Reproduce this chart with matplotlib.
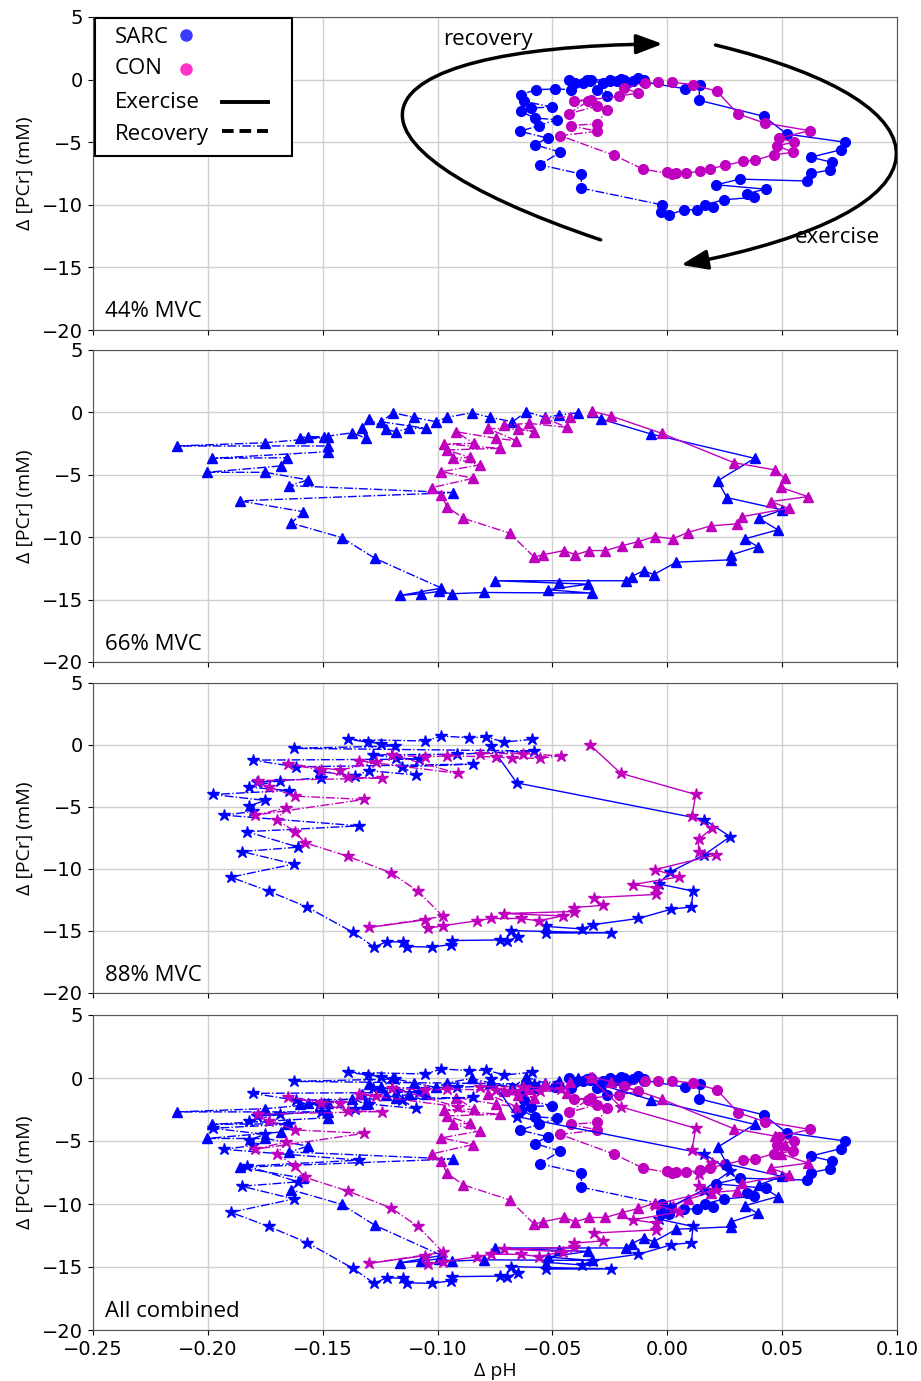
import numpy as np
import matplotlib
matplotlib.use('Agg')
import matplotlib.pyplot as plt
from matplotlib.lines import Line2D
from matplotlib.patches import FancyArrowPatch, Rectangle
from matplotlib.path import Path

# ---- 44% MVC (circles) ----
sarc44_ex_x = [-0.033, -0.02, -0.01, 0.0075, 0.0141, 0.0138, 0.042, 0.052, 0.0774, 0.0757, 0.0624, 0.0717, 0.071, 0.0627,
               0.061, 0.0316, 0.0213, 0.0428, 0.0347, 0.0377, 0.0246, 0.0163, 0.0201, 0.0129, 0.0072, 0.0006, -0.0027, -0.0024]
sarc44_ex_y = [0.0, -0.1, -0.2, -0.72, -0.45, -1.65, -2.93, -4.35, -5.0, -5.6, -6.2, -6.6, -7.2, -7.5,
               -8.1, -7.95, -8.4, -8.75, -9.1, -9.4, -9.6, -10.0, -10.2, -10.4, -10.4, -10.8, -10.6, -10.0]
sarc44_rec_x = [-0.0374, -0.0374, -0.0555, -0.0466, -0.0578, -0.0521, -0.0641, -0.056, -0.0481, -0.0578, -0.0638,
                -0.0593, -0.0503, -0.0623, -0.0638, -0.057, -0.0488, -0.042, -0.0428, -0.0368, -0.04, -0.0338, -0.035,
                -0.0278, -0.0263, -0.0308, -0.025, -0.0219, -0.02, -0.0174, -0.015, -0.0129, -0.0189, -0.0249, -0.01]
sarc44_rec_y = [-8.67, -7.55, -6.8, -5.8, -5.2, -4.67, -4.13, -3.68, -3.2, -3.07, -2.53,
                -2.27, -2.19, -1.73, -1.2, -0.8, -0.75, -0.8, 0.0, -0.27, -0.3, -0.13, -0.05,
                -0.27, -1.33, -0.8, -0.15, -0.13, 0.05, -0.27, -0.1, 0.13, 0.0, 0.0, -0.05]
con44_ex_x = [0.0021, 0.011, 0.0216, 0.0308, 0.0425, 0.062, 0.0485, 0.0552, 0.0478, 0.0548, 0.0463, 0.038, 0.0328,
              0.0253, 0.0186, 0.0141, 0.0081, 0.0036, 0.0, 0.002]
con44_ex_y = [-0.21, -0.4, -0.93, -2.75, -3.47, -4.08, -4.67, -5.0, -5.28, -5.81, -6.0, -6.45, -6.53,
              -6.85, -7.12, -7.33, -7.47, -7.47, -7.4, -7.55]
con44_rec_x = [-0.0106, -0.0231, -0.0466, -0.0305, -0.0421, -0.0305, -0.0263, -0.0308, -0.0428, -0.0346, -0.0406,
               -0.0331, -0.0211, -0.0129, -0.0189, -0.0099, -0.0039]
con44_rec_y = [-7.15, -6.05, -4.48, -4.13, -3.68, -3.52, -2.4, -2.13, -2.72, -1.73, -1.68,
               -1.6, -1.33, -1.07, -0.67, -0.27, -0.21]

# ---- 66% MVC (triangles) ----
sarc66_ex_x = [-0.0329, -0.029, -0.0071, 0.038, 0.0219, 0.026, 0.05, 0.0398, 0.0481, 0.0338, 0.0393, 0.0279, 0.0279,
               0.004, -0.006, -0.0102, -0.0155, -0.0181, -0.075, -0.0471, -0.0345, -0.0519, -0.0329, -0.08, -0.0936,
               -0.0995, -0.1071, -0.1164, -0.0983]
sarc66_ex_y = [0.0, -0.53, -1.73, -3.68, -5.49, -6.83, -7.81, -8.48, -9.41, -10.13, -10.75, -11.41, -11.81,
               -12.0, -13.0, -12.67, -13.15, -13.49, -13.49, -13.68, -13.76, -14.21, -14.48, -14.43, -14.53,
               -14.35, -14.53, -14.67, -14.08]
sarc66_rec_x = [-0.1274, -0.1417, -0.1636, -0.1586, -0.1862, -0.0931, -0.1645, -0.1564, -0.175, -0.2005, -0.1683,
                -0.1655, -0.1983, -0.1476, -0.1476, -0.2136, -0.175, -0.1476, -0.1598, -0.1564, -0.1495, -0.1371,
                -0.1312, -0.1329, -0.1298, -0.1226, -0.1181, -0.1126, -0.105, -0.1245, -0.1193, -0.1102, -0.1007,
                -0.096, -0.0852, -0.077, -0.0674, -0.0614, -0.0531, -0.0471, -0.0388]
sarc66_rec_y = [-11.68, -10.03, -8.88, -7.95, -7.09, -6.43, -5.87, -5.41, -4.8, -4.8, -4.29,
                -3.63, -3.68, -3.15, -2.69, -2.69, -2.43, -2.0, -2.03, -1.95, -1.95, -1.63,
                -2.08, -1.28, -0.51, -1.36, -1.55, -1.28, -1.28, -0.75, -0.03, -0.4, -0.75,
                -0.4, -0.03, -0.4, -0.75, 0.05, -0.4, -0.21, -0.03]
con66_ex_x = [-0.0329, -0.0245, -0.0024, 0.029, 0.0469, 0.0512, 0.0493, 0.0612, 0.045, 0.0529, 0.0326, 0.0302,
              0.019, 0.0088, 0.0024, -0.0055, -0.0126, -0.0198, -0.0269, -0.034, -0.04, -0.0448, -0.0543, -0.0579]
con66_ex_y = [0.1, -0.29, -1.68, -4.03, -4.61, -5.28, -6.0, -6.75, -7.15, -7.68, -8.35, -8.93,
              -9.09, -9.63, -10.13, -9.95, -10.35, -10.69, -11.07, -11.07, -11.41, -11.07, -11.41, -11.6]
con66_rec_x = [-0.0686, -0.0888, -0.096, -0.0983, -0.1026, -0.0845, -0.0983, -0.0817, -0.0931, -0.086, -0.096,
               -0.0729, -0.0971, -0.0843, -0.0919, -0.0745, -0.0657, -0.0781, -0.065, -0.0579, -0.071, -0.0602,
               -0.0436, -0.0531, -0.0424]
con66_rec_y = [-9.68, -8.48, -7.55, -6.61, -6.03, -5.28, -4.75, -4.21, -3.68, -3.6, -3.01,
               -2.88, -2.53, -2.48, -1.55, -2.08, -2.27, -1.28, -1.36, -1.55, -1.01, -0.88,
               -1.2, -0.48, -0.35]

# ---- 88% MVC (stars) ----
sarc88_ex_x = [-0.0769, -0.0655, 0.016, 0.0274, 0.016, 0.0012, -0.0038, 0.0112, 0.0105, 0.0017, -0.0126, -0.0324,
               -0.0371, -0.0526, -0.0526, -0.0245, -0.0679, -0.065, -0.0698, -0.0729, -0.0936, -0.094, -0.1026,
               -0.1131, -0.115, -0.1221, -0.1276]
sarc88_ex_y = [-0.08, -3.06, -6.01, -7.39, -8.86, -10.24, -11.2, -11.78, -13.06, -13.24, -13.99, -14.49,
               -14.84, -14.63, -15.16, -15.16, -14.97, -15.45, -15.82, -15.72, -15.77, -16.09, -16.3,
               -16.25, -15.9, -15.85, -16.3]
sarc88_rec_x = [-0.1369, -0.1569, -0.1736, -0.19, -0.1626, -0.1852, -0.1607, -0.1829, -0.134, -0.1929, -0.1802,
                -0.1821, -0.175, -0.1979, -0.1648, -0.1821, -0.1688, -0.1788, -0.1509, -0.1514, -0.1359, -0.1298,
                -0.1095, -0.1155, -0.0845, -0.1617, -0.1805, -0.1083, -0.1179, -0.1279, -0.0917, -0.0579, -0.1626,
                -0.1186, -0.1245, -0.1305, -0.1388, -0.1055, -0.0983, -0.0864, -0.079, -0.071, -0.059]
sarc88_rec_y = [-15.1, -13.06, -11.78, -10.66, -9.6, -8.59, -8.24, -6.99, -6.52, -5.66, -5.35,
                -4.92, -4.47, -3.99, -3.67, -3.4, -2.87, -3.0, -2.66, -2.15, -2.47, -2.07,
                -2.42, -1.76, -1.54, -1.76, -1.22, -1.14, -1.06, -0.8, -0.74, -0.48, -0.27,
                -0.08, 0.11, 0.24, 0.45, 0.32, 0.72, 0.59, 0.64, 0.24, 0.45]
con88_ex_x = [-0.0336, -0.0202, 0.0124, 0.0107, 0.0195, 0.0136, 0.0136, 0.0212, -0.0055, 0.0052, -0.015, -0.0048,
              -0.0048, -0.0321, -0.0281, -0.0407, -0.0407, -0.071, -0.0455, -0.056, -0.0638, -0.0769, -0.0829,
              -0.0976, -0.1043, -0.1055, -0.1298]
con88_ex_y = [0.0, -2.29, -3.99, -5.74, -6.73, -7.61, -8.59, -8.86, -10.05, -10.64, -11.25, -11.52,
              -12.05, -12.31, -12.93, -13.11, -13.43, -13.59, -13.78, -14.18, -13.99, -13.99, -14.18,
              -14.57, -14.79, -14.1, -14.71]
con88_rec_x = [-0.0976, -0.1086, -0.1202, -0.1388, -0.1579, -0.1619, -0.1698, -0.1662, -0.1795, -0.1319, -0.1622,
               -0.1733, -0.1781, -0.124, -0.1388, -0.1507, -0.165, -0.1424, -0.1267, -0.134, -0.0912, -0.1198,
               -0.1055, -0.096, -0.0745, -0.0674, -0.0555, -0.0464, -0.0626, -0.0817]
con88_rec_y = [-13.83, -11.78, -10.32, -8.99, -7.87, -6.99, -6.06, -5.08, -5.66, -4.39, -4.12,
               -3.4, -2.87, -2.66, -2.61, -2.02, -1.54, -2.02, -1.41, -1.28, -2.29, -0.8,
               -0.96, -0.88, -0.96, -1.06, -1.06, -0.88, -0.69, -0.69]

panel_labels = ['44% MVC', '66% MVC', '88% MVC', 'All combined']
legend_labels = ['SARC', 'CON', 'Exercise', 'Recovery']
x_ticks = [-0.25, -0.20, -0.15, -0.10, -0.05, 0.00, 0.05, 0.10]
y_ticks = [5, 0, -5, -10, -15, -20]

BLUE = '#0000ff'
MAG = '#bf00bf'
TXT = ['Open Sans', 'DejaVu Sans']

sets = {
    '44': dict(marker='o', ms=7,
               sarc=(sarc44_ex_x, sarc44_ex_y, sarc44_rec_x, sarc44_rec_y),
               con=(con44_ex_x, con44_ex_y, con44_rec_x, con44_rec_y)),
    '66': dict(marker='^', ms=6.5,
               sarc=(sarc66_ex_x, sarc66_ex_y, sarc66_rec_x, sarc66_rec_y),
               con=(con66_ex_x, con66_ex_y, con66_rec_x, con66_rec_y)),
    '88': dict(marker='*', ms=9,
               sarc=(sarc88_ex_x, sarc88_ex_y, sarc88_rec_x, sarc88_rec_y),
               con=(con88_ex_x, con88_ex_y, con88_rec_x, con88_rec_y)),
}


def draw_loop(ax, data, color, marker, ms):
    ex_x, ex_y, rec_x, rec_y = data
    ax.plot(ex_x, ex_y, '-', color=color, lw=1, marker=marker, ms=ms)
    # recovery continues from the last exercise point
    ax.plot([ex_x[-1]] + rec_x, [ex_y[-1]] + rec_y, '-.', color=color, lw=1)
    ax.plot(rec_x, rec_y, ls='none', color=color, marker=marker, ms=ms)


fig = plt.figure(figsize=(9.21, 13.81), dpi=100)
boxes = [(17, 330), (350, 662), (683, 993), (1015, 1330)]
axes = []
for top, bot in boxes:
    ax = fig.add_axes([93 / 921, 1 - bot / 1381, 804 / 921, (bot - top) / 1381])
    axes.append(ax)

for i, ax in enumerate(axes):
    keys = ['44', '66', '88'] if i == 3 else [['44', '66', '88'][i]]
    for k in keys:
        s = sets[k]
        draw_loop(ax, s['sarc'], BLUE, s['marker'], s['ms'])
        draw_loop(ax, s['con'], MAG, s['marker'], s['ms'])
    ax.set_xlim(-0.25, 0.10)
    ax.set_ylim(-20, 5)
    ax.set_xticks(x_ticks)
    ax.set_yticks(y_ticks)
    ax.grid(True, color='#cfcfcf', lw=1)
    ax.set_axisbelow(True)
    ax.tick_params(labelsize=14)
    for sp in ax.spines.values():
        sp.set_color('#555555')
    ax.set_ylabel('Δ [PCr] (mM)', fontsize=14, family=TXT, labelpad=6)
    ax.text(0.015, 0.04, panel_labels[i], transform=ax.transAxes, fontsize=16, family=TXT)
    if i < 3:
        ax.tick_params(labelbottom=False)

axes[3].set_xlabel('Δ pH', fontsize=14, family=TXT, labelpad=2)

# hand-made legend box in the first panel (text left, symbol right)
ax = axes[0]
ax.add_patch(Rectangle((0.0025, 0.555), 0.245, 0.442, transform=ax.transAxes, fill=True, fc='white',
                       ec='k', lw=1.5, zorder=5, clip_on=False))
text_y = [0.936, 0.834, 0.728, 0.626]
for lab, ty in zip(legend_labels, text_y):
    ax.text(0.027, ty, lab, transform=ax.transAxes, fontsize=16, family=TXT, va='center', zorder=6)
ax.add_line(Line2D([0.1157], [0.942], transform=ax.transAxes, ls='none', marker='o', ms=8,
                   color='#3b3bff', zorder=6))
ax.add_line(Line2D([0.1157], [0.834], transform=ax.transAxes, ls='none', marker='o', ms=8,
                   color='#ff33cc', zorder=6))
ax.add_line(Line2D([0.160, 0.218], [0.728, 0.728], transform=ax.transAxes, color='k', lw=2.8, zorder=6))
ax.add_line(Line2D([0.160, 0.218], [0.636, 0.636], transform=ax.transAxes, color='k', lw=2.8, ls=(0, (3, 1.5)),
                   zorder=6))

# curved direction arrows
rec_path = Path([(-0.029, -12.8), (-0.155, -5.0), (-0.14, 2.6), (-0.002, 2.85)],
                [Path.MOVETO, Path.CURVE4, Path.CURVE4, Path.CURVE4])
ex_path = Path([(0.021, 2.76), (0.128, -2.0), (0.128, -10.5), (0.006, -14.8)],
               [Path.MOVETO, Path.CURVE4, Path.CURVE4, Path.CURVE4])
for p in (rec_path, ex_path):
    arr = FancyArrowPatch(path=p, arrowstyle='-|>,head_length=0.8,head_width=0.3', mutation_scale=20,
                          lw=2.5, color='k', clip_on=False)
    ax.add_patch(arr)
ax.text(-0.078, 3.2, 'recovery', fontsize=16, family=TXT, ha='center', va='center')
ax.text(0.074, -12.6, 'exercise', fontsize=16, family=TXT, ha='center', va='center')

fig.savefig('out.png', dpi=100)
